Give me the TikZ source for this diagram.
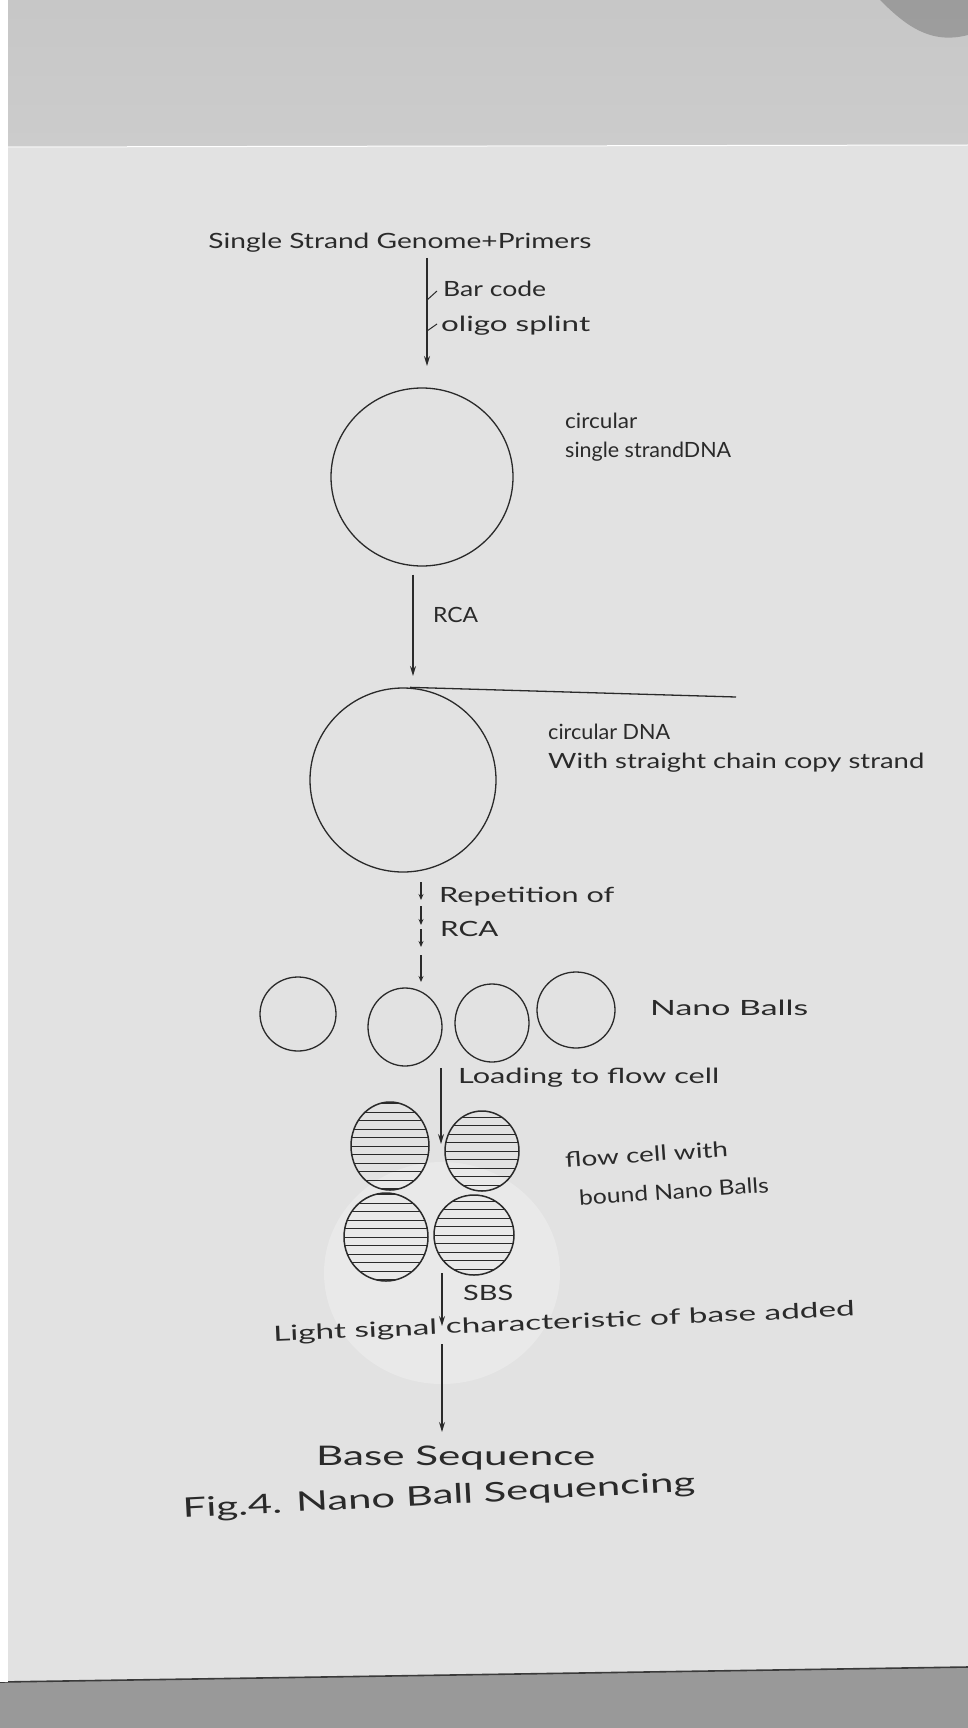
\documentclass[tikz,border=0pt]{standalone}
\usepackage{fontspec}
\setmainfont{Lato}
\usetikzlibrary{arrows.meta,shapes.geometric}
\definecolor{ink}{HTML}{2A2A2A}
\definecolor{topbg}{HTML}{CBCBCB}
\definecolor{botbg}{HTML}{999999}
\definecolor{edge}{HTML}{3A3A3A}
\pgfdeclareverticalshading{paper}{968bp}{%
  color(0bp)=(black!20!white);
  color(180bp)=(black!15!white);
  color(380bp)=(black!12!white);
  color(880bp)=(black!11!white);
  color(1533bp)=(black!12!white)}
\pgfdeclareverticalshading{topstrip}{968bp}{%
  color(0bp)=(black!18!white);
  color(148bp)=(black!24!white)}
\newcommand{\hw}[2]{\resizebox{#1}{\height}{#2}}
\tikzset{
  lbl/.style={text=ink, inner sep=0pt, font=\fontsize{21}{24}\selectfont},
  big/.style={text=ink, inner sep=0pt, font=\fontsize{27}{30}\selectfont},
  flow/.style={draw=ink, line width=1.3pt, -{Stealth[length=10pt,width=6pt]}},
  tiny/.style={draw=ink, line width=1.1pt, -{Stealth[length=6pt,width=5pt]}},
  ball/.style={ellipse, draw=ink, line width=1.3pt, inner sep=0pt},
  hball/.style={ball, line width=1.5pt, path picture={
      \foreach \k in {-5,...,5}{
        \draw[ink, line width=1pt] ([yshift=\k*8.5pt]path picture bounding box.west) -- ([yshift=\k*8.5pt]path picture bounding box.east);}}},
  tick/.style={draw=ink, line width=1pt}
}
\begin{document}
\begin{tikzpicture}[x=1pt,y=-1pt]
\useasboundingbox (0,0) rectangle (968,1728);
% background
\fill[shading=topstrip] (0,0) rectangle (968,148);
\fill[black!55, opacity=0.5] (880,0) .. controls (905,25) and (930,45) .. (968,35) -- (968,0) -- cycle;
\fill[botbg] (0,1660) rectangle (968,1728);
\fill[shading=paper] (8,147) -- (968,145) -- (968,1667) -- (8,1682) -- cycle;
\draw[white, line width=1pt] (8,147) -- (968,145);
\draw[edge, line width=1.6pt] (0,1682) -- (968,1667);
\fill[white] (0,0) rectangle (8,1682);
% faint flow-cell disc
\node[ellipse, fill=white, opacity=0.25, minimum width=236pt, minimum height=222pt, inner sep=0pt] (disc) at (442,1273) {};

% top text
\node[lbl] (t1) at (400,243) {\hw{383pt}{Single Strand Genome+Primers}};
\coordinate (a1s) at (427,258);
\coordinate (a1e) at (427,366);
\draw[flow] (a1s) -- (a1e);
\draw[tick] (427,300) -- (437,291);
\draw[tick] (427,331) -- (437,324);
\node[lbl, anchor=west] (bar) at (443,289) {\hw{103pt}{Bar code}};
\node[lbl, anchor=west] (oli) at (441,326) {\hw{149pt}{oligo splint}};

% circle 1
\node[ball, minimum width=182pt, minimum height=178pt] (c1) at (422,477) {};
\node[lbl, anchor=west] (cir1) at (565,421) {\hw{72pt}{circular}};
\node[lbl, anchor=west] (ss) at (565,452) {\hw{166pt}{single strandDNA}};
\draw[flow] ([yshift=-8pt]c1.south -| 413,0) -- (413,676);
\node[lbl, anchor=west] (rca1) at (433,615) {\hw{45pt}{RCA}};

% circle 2
\node[ball, minimum width=186pt, minimum height=184pt] (c2) at (403,780) {};
\coordinate (strandend) at (736,697);
\draw[ink, line width=1.3pt] (c2.north) ++(7,0) -- (strandend);
\node[lbl, anchor=west] (cdna) at (548,732) {\hw{122pt}{circular DNA}};
\node[lbl, anchor=west] (wsc) at (548,763) {\hw{376pt}{With straight chain copy strand}};

% repetition arrows
\draw[tiny] (421,882) -- (421,900);
\draw[tiny] (421,906) -- (421,925);
\draw[tiny] (421,929) -- (421,947);
\draw[tiny] (421,955) -- (421,982);
\node[lbl, anchor=west] (rep) at (439,897) {\hw{175pt}{Repetition of}};
\node[lbl, anchor=west] (rca2) at (440,929) {\hw{58pt}{RCA}};

% nano balls
\node[ball, minimum width=76pt, minimum height=74pt] (n1) at (298,1014) {};
\node[ball, minimum width=74pt, minimum height=78pt] (n2) at (405,1027) {};
\node[ball, minimum width=74pt, minimum height=78pt] (n3) at (492,1023) {};
\node[ball, minimum width=78pt, minimum height=76pt] (n4) at (576,1010) {};
\node[lbl, anchor=west] (nb) at (650,1008) {\hw{158pt}{Nano Balls}};

% loading
\draw[flow] (441,1068) -- (441,1144);
\node[lbl, anchor=west] (load) at (458,1078) {\hw{261pt}{Loading to flow cell}};

% hatched balls
\node[hball, minimum width=78pt, minimum height=88pt] (h1) at (390,1146) {};
\node[hball, minimum width=74pt, minimum height=80pt] (h2) at (482,1151) {};
\node[hball, minimum width=84pt, minimum height=88pt] (h3) at (386,1237) {};
\node[hball, minimum width=80pt, minimum height=80pt] (h4) at (474,1235) {};
\node[lbl, anchor=west, rotate=4] (fc1) at (565,1160) {\hw{163pt}{flow cell with}};
\node[lbl, anchor=west, rotate=4] (fc2) at (579,1198) {\hw{190pt}{bound Nano Balls}};

% SBS
\draw[flow] (442,1273) -- (442,1326);
\node[lbl, anchor=west] (sbs) at (463,1293) {\hw{50pt}{SBS}};
\node[lbl, rotate=2.5] (light) at (564,1323) {\hw{582pt}{Light signal characteristic of base added}};
\draw[flow] (442,1344) -- (442,1432);
\node[big, anchor=west] (bs) at (316,1458) {\hw{279pt}{Base Sequence}};
\node[big, rotate=3] (fig) at (439,1497) {\hw{513pt}{Fig.4. Nano Ball Sequencing}};
\end{tikzpicture}
\end{document}
